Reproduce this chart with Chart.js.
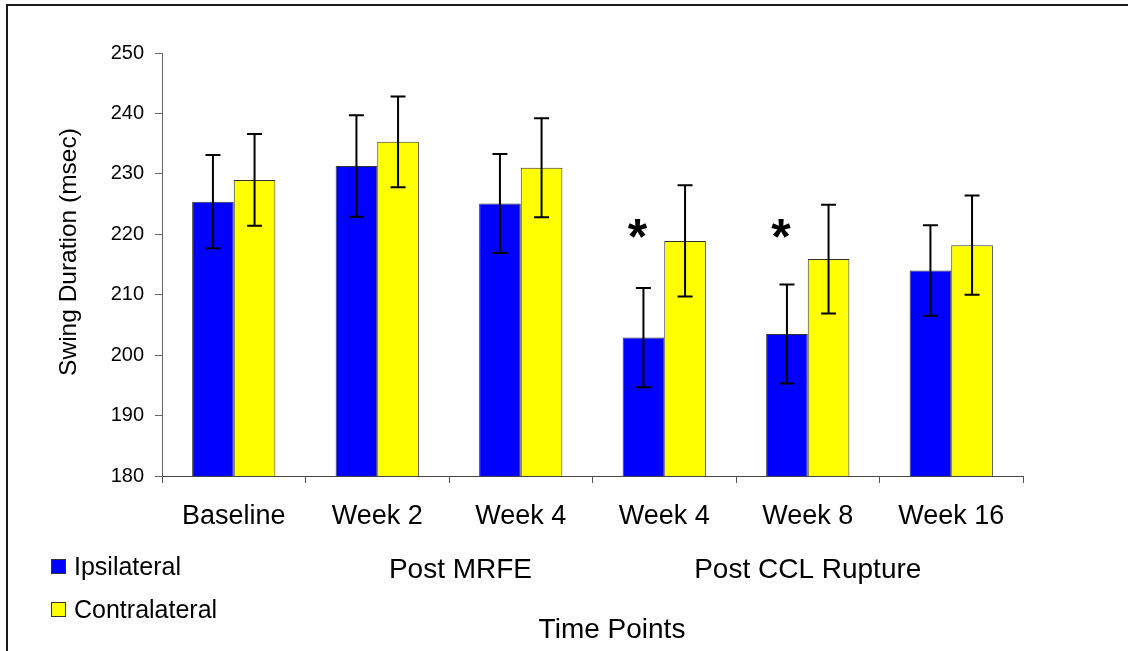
<!DOCTYPE html>
<html>
<head>
<meta charset="utf-8">
<script src="https://cdn.jsdelivr.net/npm/chart.js@4.4.1/dist/chart.umd.min.js"></script>
<style>
  html, body { margin: 0; padding: 0; background: #fff; }
  #wrap { width: 1128px; height: 651px; position: relative; }
</style>
</head>
<body>
<div id="wrap"><canvas id="swing-chart"></canvas></div>
<script>
const categories = ['Baseline', 'Week 2', 'Week 4', 'Week 4', 'Week 8', 'Week 16'];
const ipsilateral = [225.4, 231.3, 225.1, 202.9, 203.5, 214.0];
const ipsilateralErr = [7.7, 8.4, 8.2, 8.2, 8.2, 7.5];
const contralateral = [229.0, 235.3, 231.0, 218.9, 215.9, 218.2];
const contralateralErr = [7.6, 7.5, 8.2, 9.2, 9.0, 8.2];
const significant = [false, false, false, true, true, false];
const starLevel = 221;
const groupLabels = ['Post MRFE', 'Post CCL Rupture'];
const groupCenters = [1.58, 4];

const FONT = "'Liberation Sans', Arial, sans-serif";

document.addEventListener('DOMContentLoaded', function() {
    const errors = [ipsilateralErr, contralateralErr];

    // error bars, asterisks, group labels, legend and frame
    const extras = {
        id: 'extras',
        afterDatasetsDraw(chart) {
            const ctx = chart.ctx;
            const y = chart.scales.y;
            ctx.save();
            ctx.strokeStyle = '#000';
            ctx.lineWidth = 2;
            chart.data.datasets.forEach((ds, di) => {
                const meta = chart.getDatasetMeta(di);
                meta.data.forEach((bar, i) => {
                    const v = ds.data[i];
                    const e = errors[di][i];
                    const top = y.getPixelForValue(v + e);
                    const bot = y.getPixelForValue(v - e);
                    ctx.beginPath();
                    ctx.moveTo(bar.x, top); ctx.lineTo(bar.x, bot);
                    ctx.moveTo(bar.x - 7.5, top); ctx.lineTo(bar.x + 7.5, top);
                    ctx.moveTo(bar.x - 7.5, bot); ctx.lineTo(bar.x + 7.5, bot);
                    ctx.stroke();
                });
            });

            // significance stars, centred on starLevel
            ctx.fillStyle = '#000';
            ctx.textAlign = 'center';
            ctx.textBaseline = 'alphabetic';
            ctx.font = 'bold 50px ' + FONT;
            const tm = ctx.measureText('*');
            const shift = (tm.actualBoundingBoxAscent - tm.actualBoundingBoxDescent) / 2;
            const m0 = chart.getDatasetMeta(0);
            significant.forEach((s, i) => {
                if (s) ctx.fillText('*', m0.data[i].x - 6, y.getPixelForValue(starLevel) + shift);
            });
            ctx.restore();
        },
        afterDraw(chart) {
            const ctx = chart.ctx;
            const x = chart.scales.x;
            ctx.save();
            ctx.fillStyle = '#000';
            ctx.textBaseline = 'alphabetic';
            ctx.textAlign = 'center';
            ctx.font = '28px ' + FONT;
            groupLabels.forEach((t, i) => {
                ctx.fillText(t, x.getPixelForValue(groupCenters[i]), 578);
            });
            ctx.fillText('Time Points', 612, 638);

            ctx.save();
            ctx.translate(76, 252);
            ctx.rotate(-Math.PI / 2);
            ctx.font = '24.5px ' + FONT;
            ctx.fillText('Swing Duration (msec)', 0, 0);
            ctx.restore();

            // legend
            ctx.textAlign = 'left';
            ctx.font = '25px ' + FONT;
            chart.data.datasets.forEach((ds, i) => {
                const top = 559 + i * 43;
                ctx.fillStyle = ds.backgroundColor;
                ctx.fillRect(51, top, 14, 14);
                ctx.strokeStyle = '#333';
                ctx.lineWidth = 1;
                ctx.strokeRect(51.5, top + 0.5, 14, 14);
                ctx.fillStyle = '#000';
                ctx.fillText(ds.label, 74, top + 16);
            });

            // outer frame
            ctx.strokeStyle = '#1a1a1a';
            ctx.lineWidth = 2;
            ctx.strokeRect(7, 5, 1300, 800);
            ctx.restore();
        }
    };

    const ctx = document.getElementById('swing-chart').getContext('2d');
    new Chart(ctx, {
        type: 'bar',
        data: {
            labels: categories,
            datasets: [{
                label: 'Ipsilateral',
                data: ipsilateral,
                backgroundColor: '#0000FF',
                borderColor: '#333',
                borderWidth: 1,
                borderSkipped: false
            }, {
                label: 'Contralateral',
                data: contralateral,
                backgroundColor: '#FFFF00',
                borderColor: '#333',
                borderWidth: 1,
                borderSkipped: false
            }]
        },
        options: {
            responsive: true,
            maintainAspectRatio: false,
            animation: false,
            layout: { padding: { left: 0, top: 53, right: 105, bottom: 0 } },
            plugins: { legend: { display: false }, tooltip: { enabled: false } },
            datasets: { bar: { categoryPercentage: 0.58, barPercentage: 1.0 } },
            scales: {
                x: {
                    grid: { display: true, drawOnChartArea: false, drawTicks: true, tickLength: 7, color: '#555', offset: true },
                    border: { display: true, color: '#444', width: 1 },
                    ticks: { color: '#000', font: { family: FONT, size: 27 }, padding: 17, maxRotation: 0 },
                    afterFit(scale) { scale.height = 175; }
                },
                y: {
                    min: 180,
                    max: 250,
                    grid: { display: true, drawOnChartArea: false, drawTicks: true, tickLength: 7, color: '#666' },
                    border: { display: true, color: '#666', width: 1 },
                    ticks: { stepSize: 10, color: '#000', font: { family: FONT, size: 20 }, padding: 11 },
                    afterFit(scale) { scale.width = 162; }
                }
            }
        },
        plugins: [extras]
    });
});
</script>
</body>
</html>
